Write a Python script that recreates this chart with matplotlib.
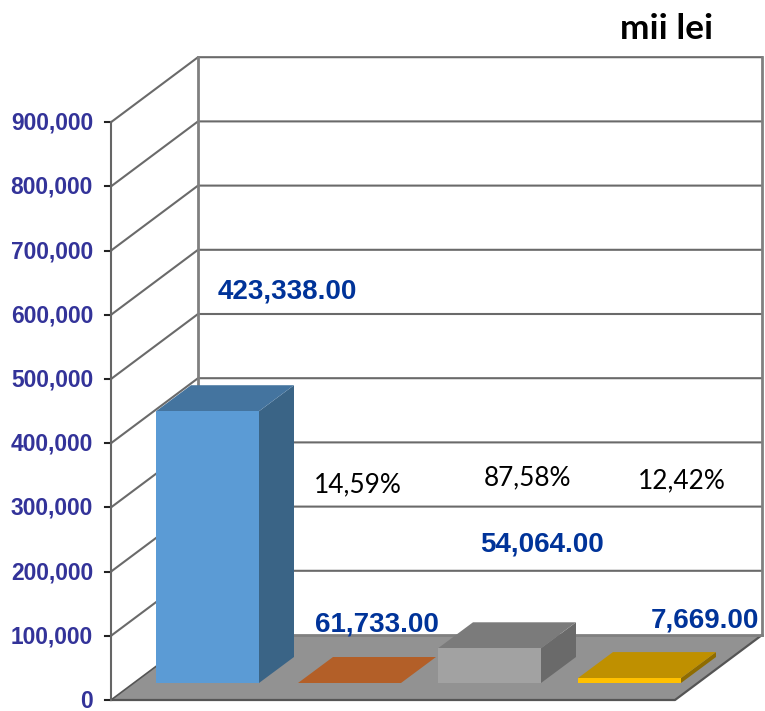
import matplotlib
matplotlib.use('Agg')
import matplotlib.pyplot as plt

# datele din grafic
ticks = [0, 100000, 200000, 300000, 400000, 500000, 600000, 700000, 800000, 900000]
tick_labels = ['0', '100,000', '200,000', '300,000', '400,000', '500,000', '600,000', '700,000', '800,000', '900,000']
bar_values = [423338, 0, 54064, 7669]  # a doua bara e desenata plata in original
bar_left = [156, 298, 438, 578]
bar_labels = ['423,338.00', '61,733.00', '54,064.00', '7,669.00']
bar_label_pos = [(218, 292), (315, 625), (480, 545), (651, 621)]
percent_labels = ['14,59%', '87,58%', '12,42%']
percent_pos = [(314, 485), (484, 478), (638, 481)]

front_colors = ['#5b9bd5', '#ed7d31', '#a2a2a2', '#ffc000']
top_colors = ['#44749f', '#b35f28', '#7b7b7b', '#bf9000']
side_colors = ['#3a6486', '#96501f', '#6a6a6a', '#8f6c00']

W, H = 765, 711
px_per_value = 64.2 / 100000
y0_px = 700


def v(px):  # pixeli -> valoare pe axa y
    return px / px_per_value


wall_dx = 87
wall_dy = v(65)
bar_w = 103
bar_dx = 35
bar_dy = v(26)
bar_base = v(17)
right_front = 675

fig = plt.figure(figsize=(W / 100, H / 100), dpi=100)
ax = fig.add_axes([0, 0, 1, 1])
ax.set_xlim(0, W)
ax.set_ylim(-v(H - y0_px), v(y0_px))
ax.axis('off')

grid = '#6a6a6a'

# podeaua
ax.fill([111, right_front, right_front + wall_dx, 111 + wall_dx],
        [0, 0, wall_dy, wall_dy], color='#929292', lw=0)
ax.plot([111, right_front, right_front + wall_dx], [0, 0, wall_dy], color='#555555', lw=1.6)
ax.plot([111, 111 + wall_dx], [0, wall_dy], color='#555555', lw=1.2)
ax.plot([111 + wall_dx, right_front + wall_dx], [wall_dy, wall_dy], color='#808080', lw=2)

# peretii si liniile de grid
for t in ticks[1:]:
    ax.plot([111, 111 + wall_dx, right_front + wall_dx],
            [t, t + wall_dy, t + wall_dy], color=grid, lw=1.5, solid_joinstyle='miter')
for t in ticks:
    ax.plot([105, 111], [t, t], color='#222222', lw=1.5)
ax.plot([111, 111], [0, ticks[-1]], color='#666666', lw=1.5)
ax.plot([111 + wall_dx] * 2, [wall_dy, ticks[-1] + wall_dy], color='#808080', lw=2)
ax.plot([right_front + wall_dx] * 2, [wall_dy, ticks[-1] + wall_dy], color='#808080', lw=2)

# barele
for i in range(len(bar_values)):
    x = bar_left[i]
    top = bar_base + bar_values[i]
    ax.fill([x + bar_w, x + bar_w + bar_dx, x + bar_w + bar_dx, x + bar_w],
            [bar_base, bar_base + bar_dy, top + bar_dy, top], color=side_colors[i], lw=0, zorder=3)
    ax.fill([x, x + bar_w, x + bar_w + bar_dx, x + bar_dx],
            [top, top, top + bar_dy, top + bar_dy], color=top_colors[i], lw=0, zorder=3)
    if bar_values[i] > 0:
        ax.bar(x, bar_values[i], width=bar_w, bottom=bar_base, align='edge',
               color=front_colors[i], lw=0, zorder=3)

# axa y
for t, lab in zip(ticks, tick_labels):
    ax.text(93, t - v(7.5), lab, ha='right', va='baseline', fontsize=16.4, fontweight='bold',
            family='Liberation Sans', color='#333399', zorder=5)

# etichete
for lab, (x, y) in zip(bar_labels, bar_label_pos):
    fig.text(x / W, 1 - y / H, lab, ha='left', va='center', fontsize=20, fontweight='bold',
             family='Liberation Sans', color='#003399', zorder=6)
for lab, (x, y) in zip(percent_labels, percent_pos):
    fig.text(x / W, 1 - y / H, lab, ha='left', va='center', fontsize=18.9,
             family='Lato', color='black', zorder=6)
fig.text(620 / W, 1 - 29 / H, 'mii lei', ha='left', va='center', fontsize=25.4,
         fontweight='bold', family='Lato', color='black', zorder=6)

fig.savefig('out.png', dpi=100)
